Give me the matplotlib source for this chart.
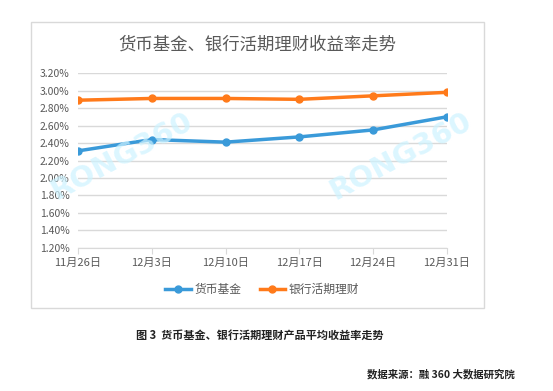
import numpy as np
import matplotlib.pyplot as plt
from matplotlib.patches import Rectangle
from matplotlib.ticker import FuncFormatter

plt.rcParams['font.family'] = ['Noto Sans CJK SC', 'DejaVu Sans']

dates = ["11月26日", "12月3日", "12月10日", "12月17日", "12月24日", "12月31日"]
money_fund = [2.31, 2.44, 2.41, 2.47, 2.55, 2.70]
bank_current = [2.89, 2.91, 2.91, 2.90, 2.94, 2.98]
yticks = [1.20, 1.40, 1.60, 1.80, 2.00, 2.20, 2.40, 2.60, 2.80, 3.00, 3.20]

blue = "#3A9AD9"
orange = "#FF7A1A"
grey = "#595959"

fig = plt.figure(figsize=(5.53, 3.91), dpi=100)
fig.patch.set_facecolor("white")

# chart frame
fig.patches.append(Rectangle((0.056, 0.212), 0.819, 0.732, transform=fig.transFigure,
                             fill=False, edgecolor="#D9D9D9", linewidth=1.0))

ax = fig.add_axes([0.141, 0.366, 0.667, 0.447])
x = np.arange(len(dates))
ax.plot(x, money_fund, color=blue, linewidth=2.5, marker="o", markersize=5, label="货币基金")
ax.plot(x, bank_current, color=orange, linewidth=2.5, marker="o", markersize=5, label="银行活期理财")

ax.set_xlim(0, len(dates) - 1)
ax.set_ylim(1.20, 3.20)
ax.set_yticks(yticks)
ax.yaxis.set_major_formatter(FuncFormatter(lambda v, p: f"{v:.2f}%"))
ax.set_xticks(x)
ax.set_xticklabels(dates)
ax.grid(axis="y", color="#D9D9D9", linewidth=1)
ax.set_axisbelow(True)
for s in ["top", "right", "left"]:
    ax.spines[s].set_visible(False)
ax.spines["bottom"].set_color("#D9D9D9")
ax.tick_params(axis="y", length=0, labelsize=7.5, labelcolor=grey, pad=6)
ax.tick_params(axis="x", length=4, color="#D9D9D9", labelsize=8, labelcolor=grey, pad=3)

# watermarks
for wx, wy in [(0.22, 0.60), (0.725, 0.60)]:
    fig.text(wx, wy, "RONG360", fontsize=21, color="#CDF3FF", alpha=0.7, rotation=28,
             ha="center", va="center", fontweight="bold", family="DejaVu Sans")

fig.text(0.465, 0.885, "货币基金、银行活期理财收益率走势", fontsize=12.5, color=grey,
         ha="center", va="center")

ax.legend(loc="center", bbox_to_anchor=(0.5, -0.24), ncol=2, frameon=False,
          fontsize=8.5, labelcolor=grey, handlelength=2.2, columnspacing=1.5,
          handletextpad=0.3)

fig.text(0.47, 0.143, "图 3  货币基金、银行活期理财产品平均收益率走势", fontsize=8,
         fontweight="bold", color="#222222", ha="center", va="center")
fig.text(0.93, 0.043, "数据来源：融 360 大数据研究院", fontsize=7.5,
         fontweight="bold", color="#222222", ha="right", va="center")

fig.savefig("out.png", dpi=100)
